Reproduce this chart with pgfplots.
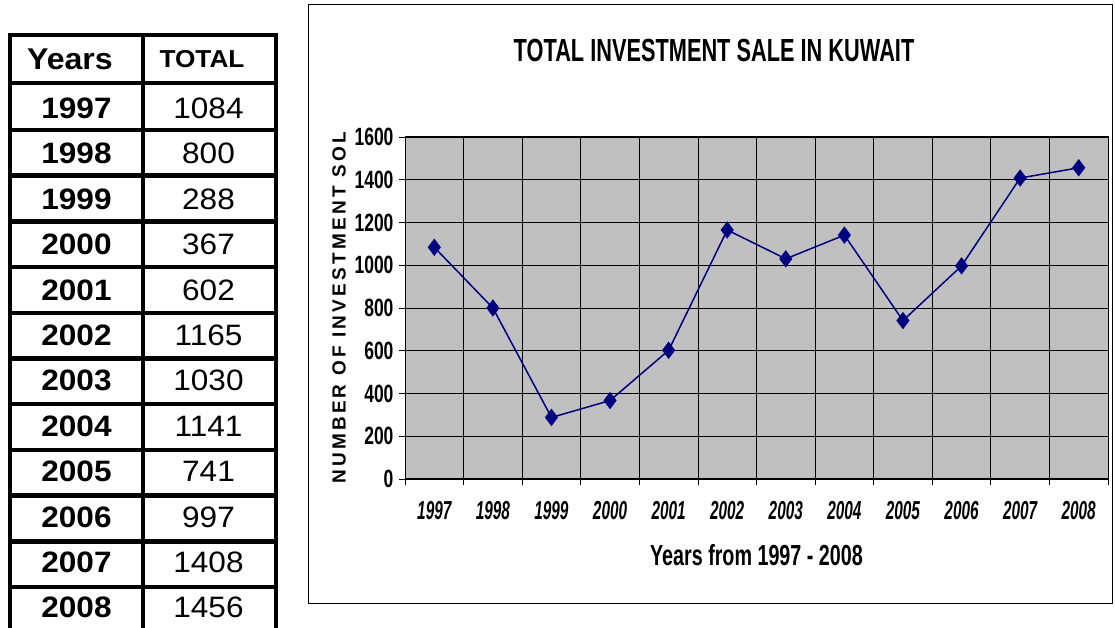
\documentclass[border=0pt]{standalone}
\usepackage{fontspec}
\setmainfont{Liberation Sans}
\newfontfamily\tablefont[FakeStretch=1.07]{Liberation Sans}
\newfontfamily\narrowfont[FakeStretch=0.68]{Liberation Sans}
\newfontfamily\xtickfont[FakeStretch=0.59]{Liberation Sans}
\newfontfamily\ytickfont[FakeStretch=0.70]{Liberation Sans}
\newfontfamily\ylabfont[LetterSpace=17]{Liberation Sans}
\usepackage{pgfplots}
\pgfplotsset{compat=1.18}
\definecolor{plotbg}{HTML}{C0C0C0}
\definecolor{navyline}{HTML}{000080}
\begin{document}
\begin{tikzpicture}
\useasboundingbox (0,0) rectangle (1115pt,628pt);
% ---- data table ----
\begin{scope}[line width=4.5pt]
\draw (10pt,-10pt) -- (10pt,595.25pt);
\draw (143pt,-10pt) -- (143pt,595.25pt);
\draw (276pt,-10pt) -- (276pt,595.25pt);
\draw (7.75pt,593pt) -- (278.25pt,593pt);
\draw (7.75pt,545pt) -- (278.25pt,545pt);
\foreach \ly in {498,452.3,406.6,360.9,315.2,269.5,223.8,178.1,132.4,86.7,41}
  \draw (7.75pt,\ly pt) -- (278.25pt,\ly pt);
\end{scope}
\node[anchor=base,inner sep=0pt,font=\tablefont\bfseries\fontsize{30}{34}\selectfont] at (70pt,558.3pt) {Years};
\node[anchor=base,inner sep=0pt,font=\tablefont\bfseries\fontsize{24.5}{28}\selectfont] at (202pt,560.2pt) {TOTAL};
\foreach \yr/\tot [count=\i from 0] in {1997/1084,1998/800,1999/288,2000/367,2001/602,2002/1165,2003/1030,2004/1141,2005/741,2006/997,2007/1408,2008/1456}{
  \pgfmathsetmacro{\by}{628-108-45.4*\i-10.5}
  \node[anchor=base,inner sep=0pt,font=\tablefont\bfseries\fontsize{29.5}{33}\selectfont] at (76.5pt,\by pt) {\yr};
  \node[anchor=base,inner sep=0pt,font=\tablefont\fontsize{29.5}{33}\selectfont] at (208.5pt,\by pt) {\tot};
}
% ---- chart frame and title ----
\draw[line width=1pt] (308pt,623pt) rectangle (1112pt,24pt);
\node[anchor=base,inner sep=0pt,font=\narrowfont\bfseries\fontsize{32}{36}\selectfont] at (714pt,566.5pt) {TOTAL INVESTMENT SALE IN KUWAIT};
\begin{axis}[
  at={(405pt,149pt)}, anchor=south west,
  scale only axis, width=703pt, height=342pt,
  xmin=-0.5, xmax=11.5, ymin=0, ymax=1600,
  axis background/.style={fill=plotbg},
  axis line style={black, line width=1pt},
  tick pos=left,
  xtick={-0.5,0.5,...,11.5}, xticklabels={},
  extra x ticks={0,1,...,11},
  extra x tick labels={1997,1998,1999,2000,2001,2002,2003,2004,2005,2006,2007,2008},
  extra x tick style={grid=none, major tick length=0pt},
  ytick={0,200,...,1600},
  xmajorgrids, ymajorgrids,
  grid style={black, line width=0.8pt},
  tick align=outside, major tick length=6pt,
  tick style={black, line width=0.8pt},
  /pgf/number format/assume math mode=true,
  /pgf/number format/1000 sep={},
  yticklabel style={font=\ytickfont\bfseries\fontsize{25}{28}\selectfont, anchor=east, xshift=-2pt},
  xticklabel style={font=\xtickfont\bfseries\itshape\fontsize{26}{29}\selectfont, anchor=north, yshift=-19pt},
  every axis y label/.style={at={(axis description cs:-0.0939,0.5)}, rotate=90, anchor=center},
  every axis x label/.style={at={(axis description cs:0.5,-0.222)}, anchor=center},
  ylabel={\ylabfont\bfseries\fontsize{19}{22}\selectfont NUMBER OF INVESTMENT SOL},
  xlabel={\narrowfont\bfseries\fontsize{29}{33}\selectfont Years from 1997 - 2008},
]
\addplot[navyline, line width=1.5pt, mark=diamond*, mark size=7.5pt, mark options={solid, fill=navyline}]
  coordinates {(0,1084)(1,800)(2,288)(3,367)(4,602)(5,1165)(6,1030)(7,1141)(8,741)(9,997)(10,1408)(11,1456)};
\end{axis}
\end{tikzpicture}
\end{document}
